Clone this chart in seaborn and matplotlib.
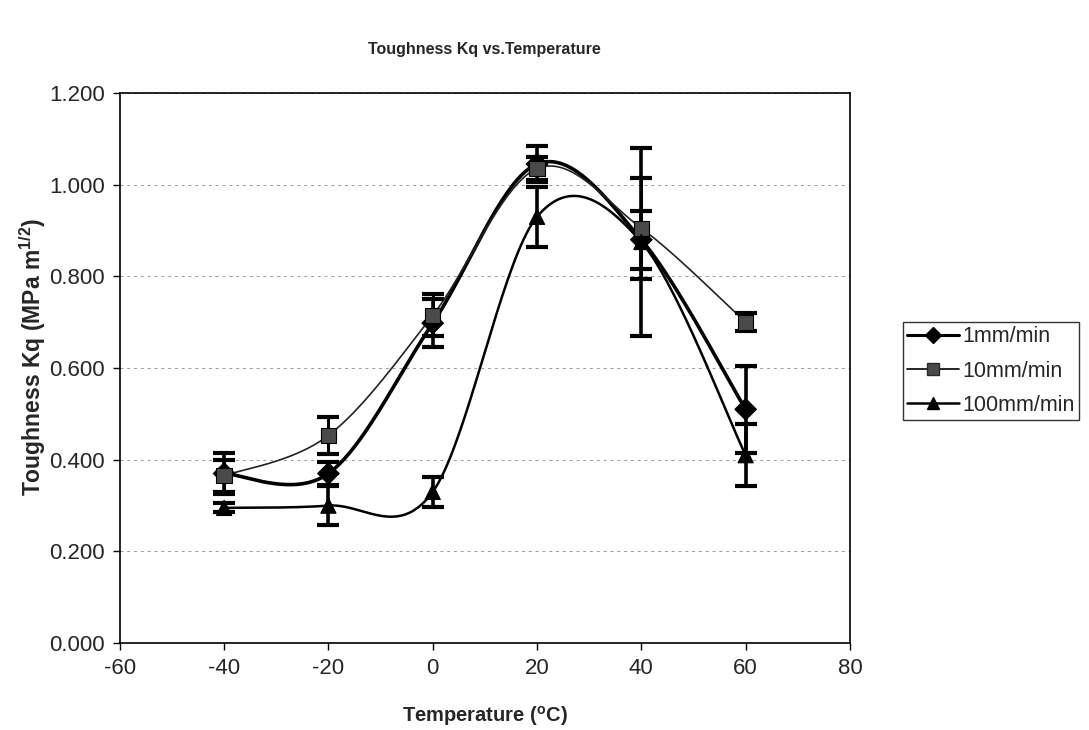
import numpy as np
import pandas as pd
import matplotlib
matplotlib.use("Agg")
import matplotlib.pyplot as plt
import seaborn as sns
from matplotlib.lines import Line2D

# ---- data ----
temps = [-40, -20, 0, 20, 40, 60]
kq_1mm = [0.370, 0.370, 0.698, 1.045, 0.880, 0.510]
err_1mm = [0.045, 0.025, 0.052, 0.040, 0.063, 0.095]
kq_10mm = [0.365, 0.453, 0.715, 1.035, 0.905, 0.700]
err_10mm = [0.035, 0.040, 0.046, 0.025, 0.110, 0.020]
kq_100mm = [0.295, 0.300, 0.330, 0.930, 0.875, 0.410]
err_100mm = [0.010, 0.042, 0.033, 0.065, 0.205, 0.068]
series_names = ["1mm/min", "10mm/min", "100mm/min"]
y_ticks = [0.0, 0.2, 0.4, 0.6, 0.8, 1.0, 1.2]
x_ticks = [-60, -40, -20, 0, 20, 40, 60, 80]

sns.set_style("white")
plt.rcParams["font.family"] = ["Liberation Sans", "DejaVu Sans"]
plt.rcParams["axes.unicode_minus"] = False
plt.rcParams["mathtext.fontset"] = "custom"
plt.rcParams["mathtext.rm"] = "Liberation Sans:bold"
plt.rcParams["mathtext.bf"] = "Liberation Sans:bold"

df = pd.DataFrame({
    "Temperature": temps * 3,
    "Kq": kq_1mm + kq_10mm + kq_100mm,
    "err": err_1mm + err_10mm + err_100mm,
    "Series": [s for s in series_names for _ in temps],
})


def excel_smooth(x, y, n=40):
    """Excel-like smoothed line (cubic Bezier / Catmull-Rom through points)."""
    P = np.column_stack([x, y]).astype(float)
    Pe = np.vstack([P[0], P, P[-1]])
    out = []
    for i in range(len(P) - 1):
        p0, p1, p2, p3 = Pe[i], Pe[i + 1], Pe[i + 2], Pe[i + 3]
        b1 = p1 + (p2 - p0) / 6.0
        b2 = p2 - (p3 - p1) / 6.0
        t = np.linspace(0, 1, n)[:, None]
        seg = (1 - t) ** 3 * p1 + 3 * (1 - t) ** 2 * t * b1 + 3 * (1 - t) * t ** 2 * b2 + t ** 3 * p2
        out.append(seg)
    return np.vstack(out)


styles = {
    "1mm/min": dict(marker="D", lw=2.6, color="black", mfc="black", mec="black", elw=2.6),
    "10mm/min": dict(marker="s", lw=1.2, color="#222222", mfc="#4a4a4a", mec="#2a2a2a", elw=2.2),
    "100mm/min": dict(marker="^", lw=1.8, color="black", mfc="black", mec="black", elw=2.6),
}

fig = plt.figure(figsize=(10.89, 7.30), dpi=100)
ax = fig.add_axes([0.110, 0.119, 0.6705, 0.7536])

for name in series_names:
    st = styles[name]
    sub = df[df["Series"] == name]
    curve = excel_smooth(sub["Temperature"].values, sub["Kq"].values)
    ax.plot(curve[:, 0], curve[:, 1], color=st["color"], lw=st["lw"], zorder=3)
    ax.errorbar(sub["Temperature"], sub["Kq"], yerr=sub["err"], fmt="none",
                ecolor="black", elinewidth=st["elw"], capsize=8, capthick=3, zorder=4)

sns.scatterplot(data=df, x="Temperature", y="Kq", hue="Series", style="Series",
                palette={n: styles[n]["mfc"] for n in series_names},
                markers={n: styles[n]["marker"] for n in series_names},
                s=120, edgecolor="black", linewidth=0.8, legend=False, ax=ax, zorder=5)

ax.set_xlim(-60, 80)
ax.set_ylim(0, 1.2)
ax.set_xticks(x_ticks)
ax.set_yticks(y_ticks)
ax.set_yticklabels([f"{v:.3f}" for v in y_ticks])
ax.tick_params(axis="both", labelsize=16, direction="out", length=5, width=1, color="black",
               bottom=True, left=True, pad=6)
ax.yaxis.grid(True, color="#9a9a9a", lw=0.7, linestyle=(0, (3, 4)))
ax.xaxis.grid(False)
for sp in ax.spines.values():
    sp.set_color("black")
    sp.set_linewidth(1.2)

ax.set_xlabel(r"Temperature ($^{\mathbf{o}}$C)", fontsize=14.5, fontweight="bold", labelpad=18)
ax.set_ylabel(r"Toughness Kq (MPa m$^{\mathbf{1/2}}$)", fontsize=16.5, fontweight="bold")
ax.yaxis.set_label_coords(-0.098, 0.52)
fig.text(0.445, 0.932, "Toughness Kq vs.Temperature", ha="center", va="center",
         fontsize=11.5, fontweight="bold")

handles = [Line2D([0], [0], color="black", lw=(2.2 if n == "1mm/min" else styles[n]["lw"]),
                  marker=styles[n]["marker"], ms=(8 if n == "1mm/min" else 9),
                  mfc=styles[n]["mfc"], mec=styles[n]["mec"]) for n in series_names]
leg = fig.legend(handles, series_names, loc="upper left", bbox_to_anchor=(0.829, 0.559),
                 fontsize=15.5, frameon=True, fancybox=False, edgecolor="black",
                 handlelength=2.4, borderpad=0.2, labelspacing=0.62, handletextpad=0.15,
                 borderaxespad=0.0)
leg.get_frame().set_linewidth(1.0)

fig.savefig("out.png", dpi=100, facecolor="white")
